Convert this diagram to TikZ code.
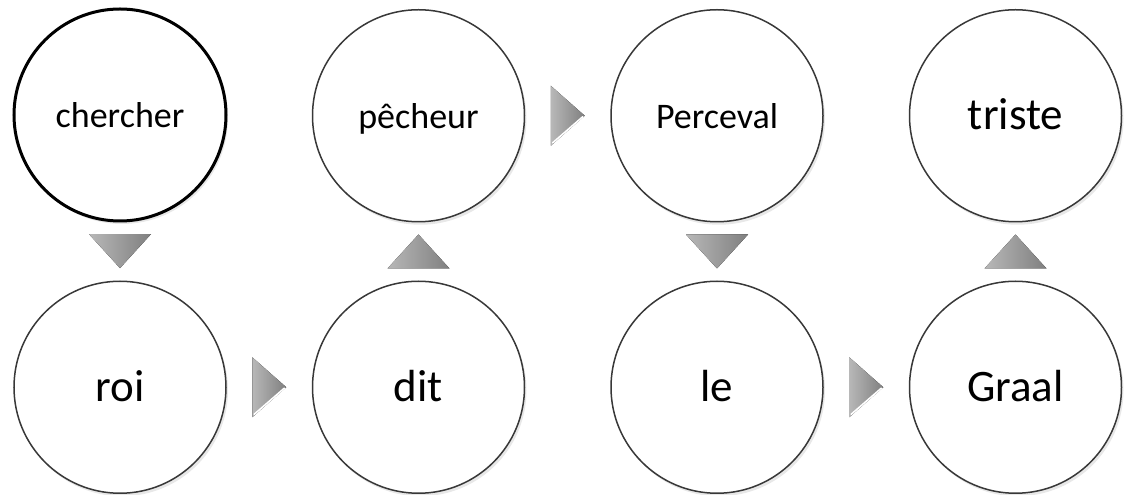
\documentclass[tikz,border=0pt]{standalone}
\usepackage{fontspec}
\setmainfont{Carlito}
\usetikzlibrary{positioning,calc,shadows}

\begin{document}
\begin{tikzpicture}[
  x=1pt,y=1pt,
  node distance=58pt and 85pt,
  word/.style={circle,draw=black!78,line width=1.5pt,fill=white,minimum size=212pt,inner sep=0pt,
               font=\fontsize{45}{54}\selectfont,text height=32pt,text depth=4pt,
               drop shadow={opacity=0.18,shadow xshift=2pt,shadow yshift=-3pt}},
  smallword/.style={font=\fontsize{36}{43}\selectfont,text height=30pt,text depth=4pt},
  firstword/.style={draw=black,line width=3pt},
  tricol/.style={left color=black!28,right color=black!50},
  vstep/.pic={\fill[tricol] (-17,31) -- (17,0) -- (-17,-31) -- cycle;},
  hstep/.pic={\fill[tricol] (-17,30) -- (17,0) -- (-17,-30) -- cycle;
              \draw[white,line width=1.6pt,line cap=round] (15,-1) -- (-15,-27);}
]
\useasboundingbox (0,0) rectangle (1128,495);
% snake of words
\node[word,smallword,firstword] (chercher) at (120,380) {chercher};
\node[word,below=of chercher] (roi) {roi};
\node[word,right=of roi] (dit) {dit};
\node[word,smallword,above=of dit] (pecheur) {pêcheur};
\node[word,smallword,right=of pecheur] (perceval) {Perceval};
\node[word,below=of perceval] (le) {le};
\node[word,right=of le] (graal) {Graal};
\node[word,above=of graal] (triste) {triste};
% step marks
\pic[rotate=-90] at ($(chercher)!0.5!(roi)$) {vstep};
\pic at ($(roi)!0.5!(dit)$) {hstep};
\pic[rotate=90] at ($(dit)!0.5!(pecheur)$) {vstep};
\pic at ($(pecheur)!0.5!(perceval)$) {hstep};
\pic[rotate=-90] at ($(perceval)!0.5!(le)$) {vstep};
\pic at ($(le)!0.5!(graal)$) {hstep};
\pic[rotate=90] at ($(graal)!0.5!(triste)$) {vstep};
\end{tikzpicture}
\end{document}
